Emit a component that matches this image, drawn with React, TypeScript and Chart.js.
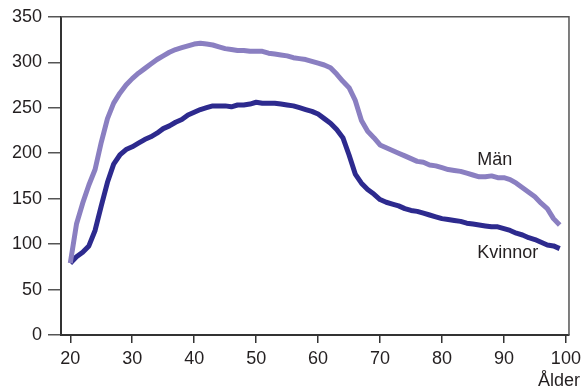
import React, { useEffect, useRef } from "react";
import { Chart, registerables } from "chart.js";

Chart.register(...registerables);

const ages: number[] = [];
for (let a = 20; a <= 99; a++) ages.push(a);

const manValues = [
  79, 122, 145, 165, 182, 212, 238, 255, 266, 275,
  282, 288, 293, 298, 303, 307, 311, 314, 316, 318,
  320, 321, 320, 319, 317, 315, 314, 313, 313, 312,
  312, 312, 310, 309, 308, 307, 305, 304, 303, 301,
  299, 297, 294, 287, 279, 272, 258, 236, 224, 217,
  209, 206, 203, 200, 197, 194, 191, 190, 187, 186,
  184, 182, 181, 180, 178, 176, 174, 174, 175, 173,
  173, 171, 167, 162, 157, 152, 145, 139, 128, 121,
];

const kvinnorValues = [
  79, 86, 91, 98, 115, 142, 168, 188, 198, 204,
  207, 211, 215, 218, 222, 227, 230, 234, 237, 242,
  245, 248, 250, 252, 252, 252, 251, 253, 253, 254,
  256, 255, 255, 255, 254, 253, 252, 250, 248, 246,
  243, 238, 233, 226, 217, 198, 177, 167, 160, 155,
  149, 146, 144, 142, 139, 137, 136, 134, 132, 130,
  128, 127, 126, 125, 123, 122, 121, 120, 119, 119,
  117, 115, 112, 110, 107, 105, 102, 99, 98, 95,
];

const xTickLabels = [20, 30, 40, 50, 60, 70, 80, 90, 100];
const yTickLabels = [0, 50, 100, 150, 200, 250, 300, 350];

const seriesNames = ["Män", "Kvinnor"];
// label anchor points in data units (age, value)
const labelAnchors = [
  { age: 85.7, value: 193 },
  { age: 85.7, value: 90 },
];
const xAxisTitle = "Ålder";

const FONT = "'Liberation Sans', Arial, sans-serif";
const TEXT = "#231f20";
const MAN_COLOR = "#8a7fc1";
const KV_COLOR = "#2d2a8e";

export default function App() {
  const ref = useRef<HTMLCanvasElement | null>(null);

  useEffect(() => {
    if (!ref.current) return;
    const labelPlugin = {
      id: "labels",
      afterDraw(chart: any) {
        const ctx = chart.ctx;
        const xs = chart.scales.x;
        const ys = chart.scales.y;
        const ca = chart.chartArea;
        ctx.save();
        ctx.strokeStyle = "#555";
        ctx.lineWidth = 1.5;
        ctx.beginPath();
        ctx.moveTo(ca.left, ca.top);
        ctx.lineTo(ca.right, ca.top);
        ctx.lineTo(ca.right, ca.bottom);
        ctx.stroke();
        ctx.fillStyle = TEXT;
        ctx.font = `18px ${FONT}`;
        ctx.textBaseline = "middle";
        ctx.textAlign = "left";
        labelAnchors.forEach((p, i) => {
          ctx.fillText(seriesNames[i], xs.getPixelForValue(p.age), ys.getPixelForValue(p.value));
        });
        ctx.textAlign = "center";
        ctx.fillText(xAxisTitle, xs.getPixelForValue(98.9), ca.bottom + 46);
        ctx.restore();
      },
    };

    const chart = new Chart(ref.current, {
      type: "line",
      data: {
        datasets: [
          {
            label: seriesNames[0],
            data: ages.map((a, i) => ({ x: a, y: manValues[i] })),
            borderColor: MAN_COLOR,
            borderWidth: 5,
            pointRadius: 0,
            tension: 0,
            borderJoinStyle: "round",
            borderCapStyle: "butt",
          },
          {
            label: seriesNames[1],
            data: ages.map((a, i) => ({ x: a, y: kvinnorValues[i] })),
            borderColor: KV_COLOR,
            borderWidth: 5,
            pointRadius: 0,
            tension: 0,
            borderJoinStyle: "round",
            borderCapStyle: "butt",
          },
        ],
      },
      options: {
        responsive: false,
        animation: false,
        layout: { padding: { top: 13, right: 16, left: 0, bottom: 0 } },
        plugins: { legend: { display: false }, tooltip: { enabled: false } },
        scales: {
          x: {
            type: "linear",
            min: 18.5,
            max: 100.5,
            afterBuildTicks: (s: any) => {
              s.ticks = xTickLabels.map((v) => ({ value: v }));
            },
            afterFit: (s: any) => {
              s.height = 52;
            },
            ticks: {
              color: TEXT,
              font: { family: FONT, size: 18 },
              padding: 5,
              maxRotation: 0,
              autoSkip: false,
            },
            grid: {
              drawOnChartArea: false,
              drawTicks: true,
              tickLength: 8,
              color: "#333",
              lineWidth: 1.5,
            },
            border: { display: true, color: "#333", width: 2 },
          },
          y: {
            min: 0,
            max: 350,
            afterBuildTicks: (s: any) => {
              s.ticks = yTickLabels.map((v) => ({ value: v }));
            },
            afterFit: (s: any) => {
              s.width = 61;
            },
            ticks: {
              color: TEXT,
              font: { family: FONT, size: 18 },
              padding: 6,
            },
            grid: {
              drawOnChartArea: false,
              drawTicks: true,
              tickLength: 13,
              color: "#555",
              lineWidth: 1.5,
            },
            border: { display: true, color: "#333", width: 2 },
          },
        },
      },
      plugins: [labelPlugin],
    } as any);
    return () => chart.destroy();
  }, []);

  return (
    <div style={{ position: "absolute", left: 0, top: 0, width: 586, height: 387, background: "#fff" }}>
      <canvas ref={ref} width={586} height={387} style={{ display: "block" }} />
    </div>
  );
}
